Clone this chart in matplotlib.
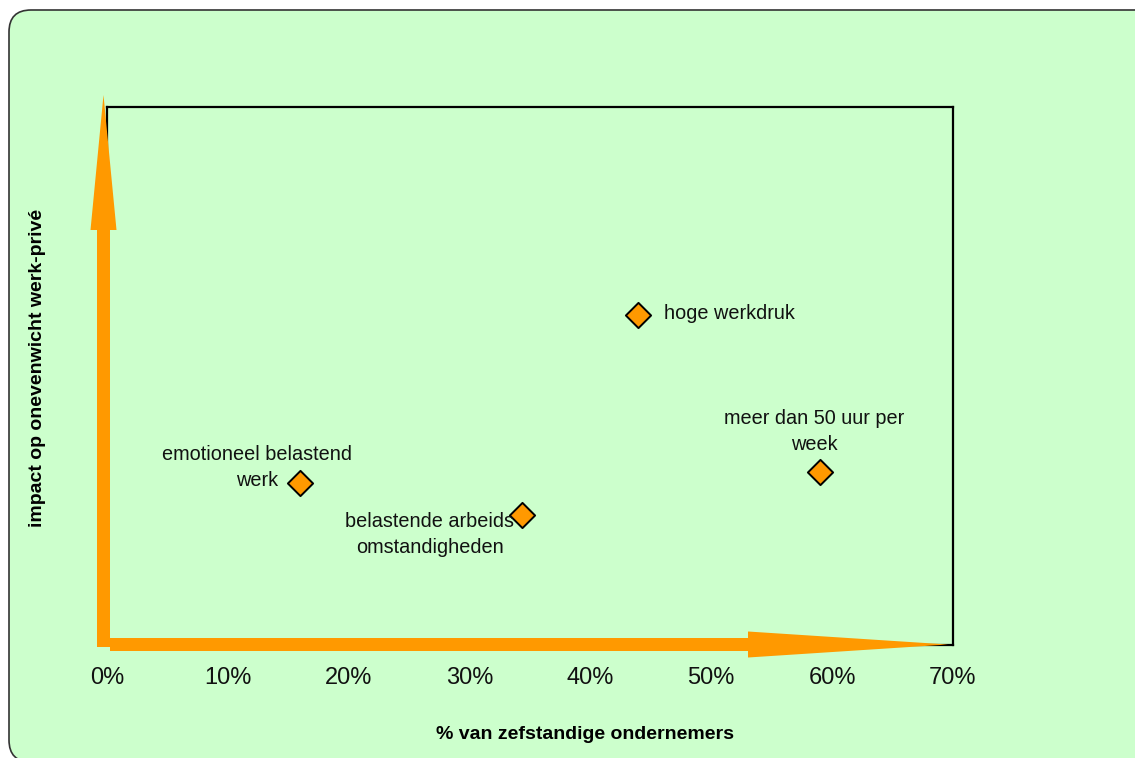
import matplotlib
matplotlib.use("Agg")
import matplotlib.pyplot as plt
from matplotlib.patches import FancyBboxPatch, FancyArrow
from matplotlib.transforms import IdentityTransform

plt.rcParams['font.family'] = ['Liberation Sans', 'DejaVu Sans']

# data (x in %, y on an unlabelled 0-100 scale)
labels = ['emotioneel belastend\nwerk', 'belastende arbeids\nomstandigheden',
          'hoge werkdruk', 'meer dan 50 uur per\nweek']
pct = [16.0, 34.3, 43.9, 59.0]
impact = [30.1, 24.2, 61.3, 32.2]
xticks = [0, 10, 20, 30, 40, 50, 60, 70]

# label placement (offset in points, alignment)
offsets = [(-31, 11), (-66, -14), (19, 1), (-4, 29)]
aligns = ['center', 'center', 'left', 'center']

W, H = 1135, 758
fig = plt.figure(figsize=(W / 100, H / 100), dpi=100)
fig.patch.set_facecolor('white')

# rounded green background panel (pixel coords, origin bottom-left)
bg = FancyBboxPatch((9, -4), 1150, 752, boxstyle='round,pad=0,rounding_size=22',
                    transform=IdentityTransform(), facecolor='#CCFFCC',
                    edgecolor='#333333', linewidth=1.2, zorder=-5)
fig.patches.append(bg)

ax = fig.add_axes([107 / W, 1 - 645 / H, 846 / W, 538 / H])
ax.set_facecolor('none')
ax.set_xlim(0, 70)
ax.set_ylim(0, 100)
for s in ax.spines.values():
    s.set_color('black')
    s.set_linewidth(1.6)

ax.set_xticks(xticks)
ax.set_xticklabels([f'{t}%' for t in xticks], fontsize=17)
ax.tick_params(axis='x', length=0, pad=16, colors='#111111')
ax.set_yticks([])

ax.set_xlabel('% van zefstandige ondernemers', fontsize=14, fontweight='bold')
ax.set_ylabel('impact op onevenwicht werk-privé', fontsize=14, fontweight='bold')
ax.xaxis.set_label_coords(0.565, -0.151)
ax.yaxis.set_label_coords(-0.072, 0.515)

# orange axis arrows
axw, axh = 846, 538
ax.add_patch(FancyArrow(-3.5 / axw, -2 / axh, 0, (550 + 2) / axh, width=13 / axw,
                        head_width=26 / axw, head_length=135 / axh, length_includes_head=True,
                        transform=ax.transAxes, color='#FF9900', clip_on=False, zorder=3,
                        linewidth=0))
ax.add_patch(FancyArrow(3 / axw, 0.5 / axh, (841 - 3) / axw, 0, width=13 / axh,
                        head_width=26 / axh, head_length=200 / axw, length_includes_head=True,
                        transform=ax.transAxes, color='#FF9900', clip_on=False, zorder=3,
                        linewidth=0))

ax.scatter(pct, impact, marker='D', s=165, color='#FF9900', edgecolor='black',
           linewidth=1.4, zorder=4)

for lab, x, y, off, ha in zip(labels, pct, impact, offsets, aligns):
    ax.annotate(lab, (x, y), xytext=off, textcoords='offset points', ha=ha,
                va='center', multialignment='center', fontsize=14.3, linespacing=1.45,
                color='#111111', zorder=5)

fig.savefig('out.png', dpi=100)
